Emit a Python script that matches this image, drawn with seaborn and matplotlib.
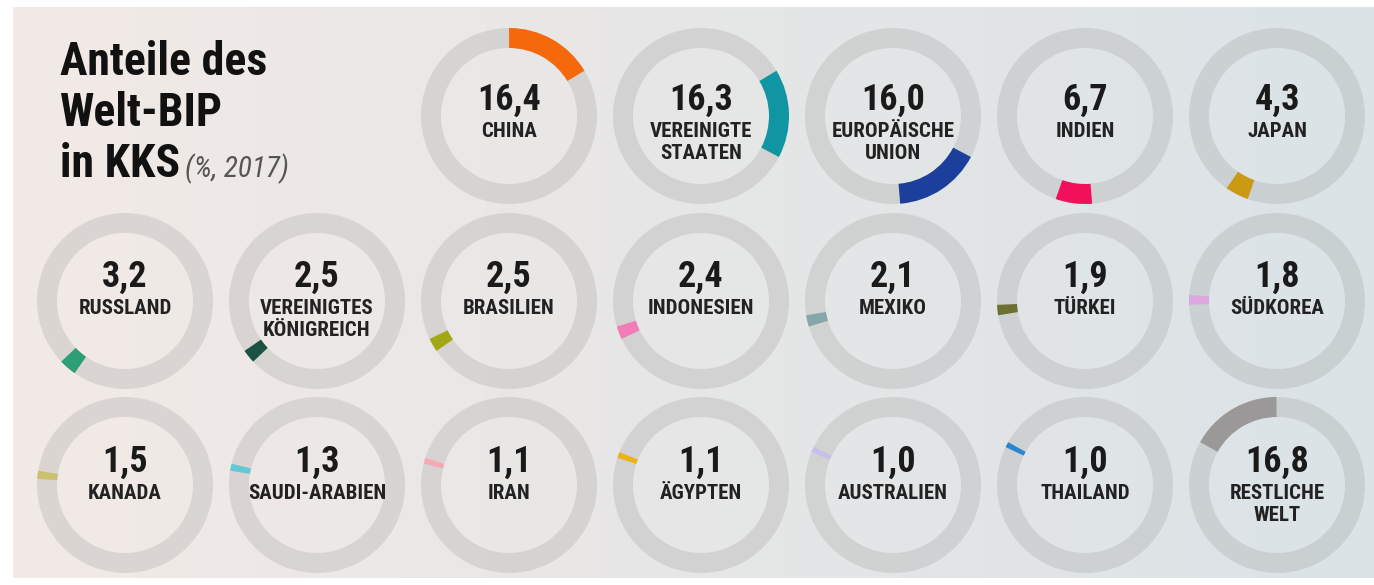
import numpy as np
import pandas as pd
import matplotlib
matplotlib.use("Agg")
import matplotlib.pyplot as plt
import seaborn as sns
from matplotlib import font_manager

# ---------------- data ----------------
countries = ["CHINA", "VEREINIGTE\nSTAATEN", "EUROPÄISCHE\nUNION", "INDIEN", "JAPAN",
             "RUSSLAND", "VEREINIGTES\nKÖNIGREICH", "BRASILIEN", "INDONESIEN", "MEXIKO",
             "TÜRKEI", "SÜDKOREA", "KANADA", "SAUDI-ARABIEN", "IRAN", "ÄGYPTEN",
             "AUSTRALIEN", "THAILAND", "RESTLICHE\nWELT"]
shares = [16.4, 16.3, 16.0, 6.7, 4.3,
          3.2, 2.5, 2.5, 2.4, 2.1,
          1.9, 1.8, 1.5, 1.3, 1.1, 1.1,
          1.0, 1.0, 16.8]
colors = ["#F5690C", "#0F96A2", "#1D3F9C", "#F2105A", "#C99A12",
          "#2E9E74", "#1A5244", "#A2A814", "#F27CB8", "#86A6AA",
          "#6D7030", "#DDA8E0", "#CBC070", "#62C8D6", "#F7A9B2", "#E9B41A",
          "#C9BDEB", "#2A86D2", "#9A9898"]
title_lines = ["Anteile des", "Welt-BIP", "in KKS"]
subtitle = "(%, 2017)"

df = pd.DataFrame({"land": countries, "anteil": shares, "farbe": colors})
df["start"] = df["anteil"].cumsum() - df["anteil"]

# ---------------- style ----------------
sns.set_theme(style="white")
avail = {f.name for f in font_manager.fontManager.ttflist}
pref = ["Liberation Sans Narrow", "Roboto Condensed", "Open Sans Condensed",
        "DejaVu Sans Condensed", "Liberation Sans", "DejaVu Sans"]
fam = [p for p in pref if p in avail] + ["DejaVu Sans"]
plt.rcParams["font.family"] = fam

W, H = 1374, 585
fig = plt.figure(figsize=(W / 100, H / 100), dpi=100)
fig.patch.set_facecolor("white")

# background panel with horizontal gradient
bg = fig.add_axes([0, 0, 1, 1])
bg.set_xlim(0, W)
bg.set_ylim(H, 0)
bg.axis("off")
left_c = np.array([242, 234, 230]) / 255
right_c = np.array([219, 227, 231]) / 255
t = np.linspace(0, 1, 256)
grad = (left_c[None, :] * (1 - t[:, None]) + right_c[None, :] * t[:, None])[None, :, :]
bg.imshow(grad, extent=[13, W, 578, 7], aspect="auto", zorder=0)

# layout of donut grid
R = 88
ring_w = 20 / 88
col_x = [125 + 192 * i for i in range(7)]
row_y = [116, 301, 485]
slots = [(0, c) for c in range(2, 7)] + [(1, c) for c in range(7)] + [(2, c) for c in range(7)]
text_shift = [0, -8, -7]

for (r, c), (_, row) in zip(slots, df.iterrows()):
    cx, cy = col_x[c], row_y[r]
    ax = fig.add_axes([(cx - R) / W, 1 - (cy + R) / H, 2 * R / W, 2 * R / H])
    ax.set_facecolor("none")
    ax.pie([1], colors=["#808080"], radius=1, startangle=90,
           wedgeprops=dict(width=ring_w, linewidth=0, alpha=0.19))
    after = max(100 - row["start"] - row["anteil"], 0)
    ax.pie([row["start"], row["anteil"], after],
           colors=["none", row["farbe"], "none"], radius=1, startangle=90,
           counterclock=False, wedgeprops=dict(width=ring_w, linewidth=0))
    ax.set_xlim(-1, 1)
    ax.set_ylim(-1, 1)
    ax.axis("off")

# text overlay in pixel coordinates
tx = fig.add_axes([0, 0, 1, 1])
tx.set_xlim(0, W)
tx.set_ylim(H, 0)
tx.axis("off")
tx.patch.set_alpha(0)

for (r, c), (_, row) in zip(slots, df.iterrows()):
    cx, cy = col_x[c], row_y[r]
    s = text_shift[r]
    num = f"{row['anteil']:.1f}".replace(".", ",")
    tx.text(cx, cy - 6 + s, num, ha="center", va="baseline", fontsize=26,
            fontweight="bold", color="#1a1a1a", fontstretch="condensed")
    for k, line in enumerate(row["land"].split("\n")):
        tx.text(cx, cy + 21 + s + 22 * k, line, ha="center", va="baseline",
                fontsize=15, fontweight="bold", color="#222222", fontstretch="condensed")

for k, line in enumerate(title_lines):
    tt = tx.text(60, 75 + 51 * k, line, ha="left", va="baseline", fontsize=33,
                 fontweight="bold", color="#111111", fontstretch="condensed")
fig.canvas.draw()
bb = tt.get_window_extent()
tx.text(bb.x1 + 5, 177, subtitle, ha="left", va="baseline", fontsize=21,
        style="italic", color="#555555")

fig.savefig("out.png", dpi=100, facecolor="white")
